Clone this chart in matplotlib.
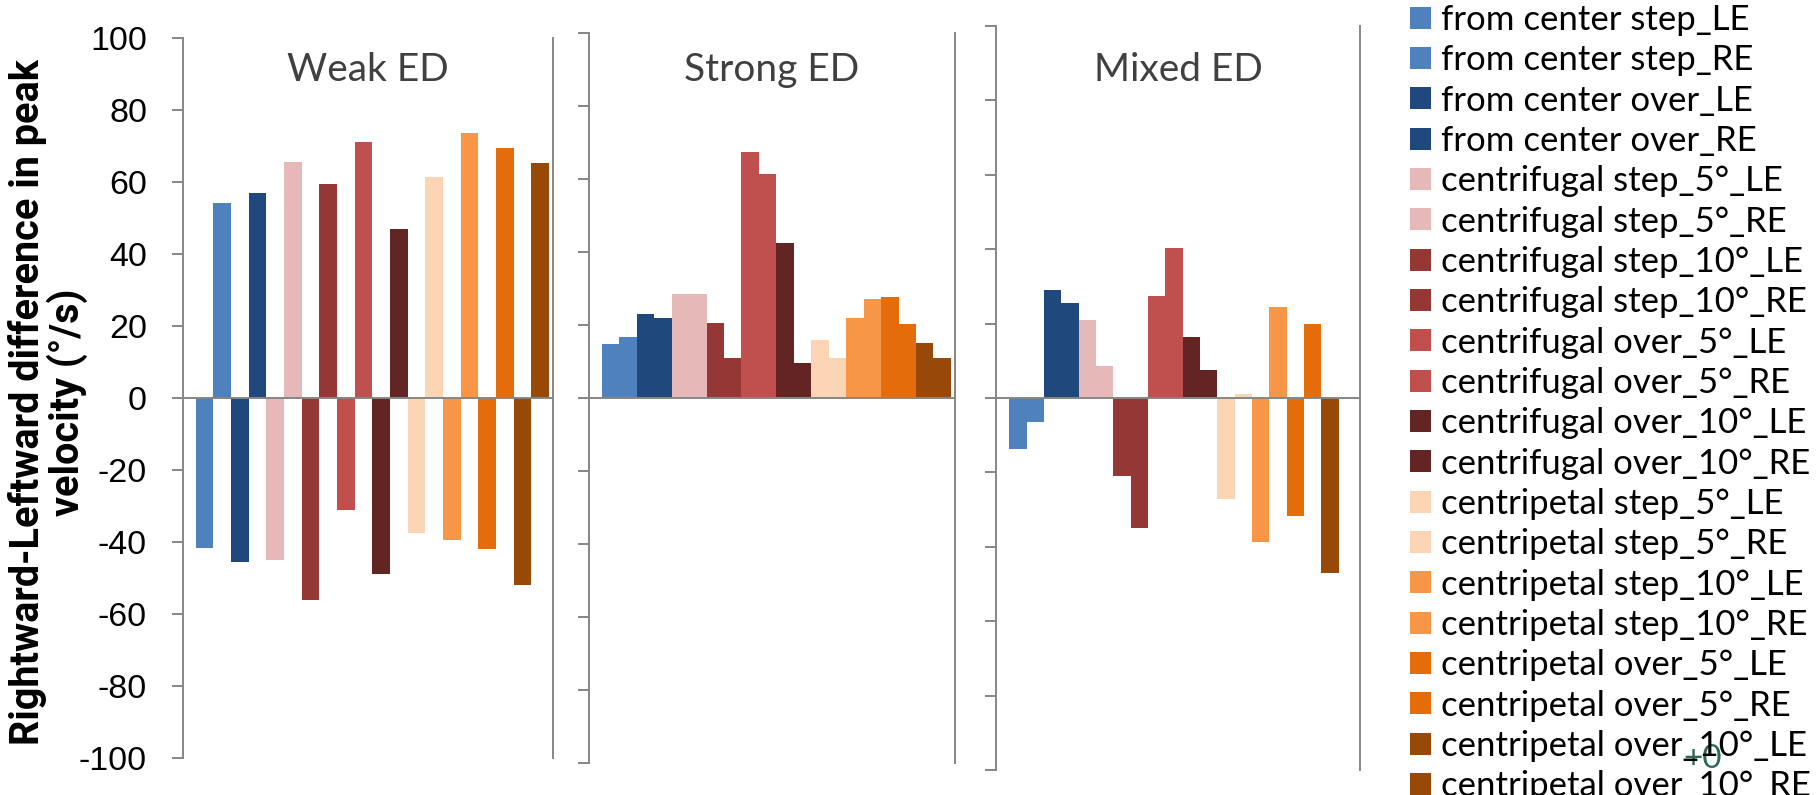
import numpy as np
import matplotlib
matplotlib.use("Agg")
import matplotlib.pyplot as plt

plt.rcParams["axes.unicode_minus"] = False

# series names, one bar each per panel
series = ["from center step_LE", "from center step_RE",
          "from center over_LE", "from center over_RE",
          "centrifugal step_5°_LE", "centrifugal step_5°_RE",
          "centrifugal step_10°_LE", "centrifugal step_10°_RE",
          "centrifugal over_5°_LE", "centrifugal over_5°_RE",
          "centrifugal over_10°_LE", "centrifugal over_10°_RE",
          "centripetal step_5°_LE", "centripetal step_5°_RE",
          "centripetal step_10°_LE", "centripetal step_10°_RE",
          "centripetal over_5°_LE", "centripetal over_5°_RE",
          "centripetal over_10°_LE", "centripetal over_10°_RE"]

panels = ["Weak ED", "Strong ED", "Mixed ED"]

weak = [-41.7, 54.2, -45.6, 57.1, -44.9, 65.7, -56.1, 59.4, -31.2, 71.1,
        -48.9, 47.1, -37.5, 61.4, -39.5, 73.6, -42.0, 69.4, -52.0, 65.3]
strong = [14.9, 16.6, 23.0, 21.9, 28.4, 28.4, 20.5, 10.9, 67.4, 61.4,
          42.6, 9.7, 16.0, 10.9, 21.9, 27.0, 27.6, 20.2, 15.2, 10.9]
mixed = [-13.8, -6.4, 28.9, 25.6, 20.9, 8.7, -20.9, -34.9, 27.3, 40.2,
         16.5, 7.6, -27.1, 1.2, -38.7, 24.5, -31.8, 19.8, -47.0, np.nan]

yticks = list(range(-100, 101, 20))

pair_colors = ["#4F81BD", "#1F497D", "#E6B9B8", "#953735", "#C0504D",
               "#632523", "#FCD5B5", "#F79646", "#E46C0A", "#984807"]
colors = [c for c in pair_colors for _ in range(2)]

grey = "#868686"
W, H = 1818, 795

fig = plt.figure(figsize=(W / 100, H / 100), dpi=100)

# panel boxes in pixels: left, right, top, bottom (Excel panels differ a bit)
boxes = [(182.5, 553.3, 38.3, 757.7),
         (588.7, 955.3, 33.0, 763.0),
         (996.3, 1360.3, 26.0, 770.0)]

axes = []
for k, (vals, name) in enumerate(zip([weak, strong, mixed], panels)):
    l, r, t, b = boxes[k]
    ax = fig.add_axes([l / W, 1 - b / H, (r - l) / W, (b - t) / H])
    x = np.arange(len(vals))
    for i in range(len(vals)):
        ax.bar(x[i], vals[i], width=1.0, color=colors[i], label=series[i],
               linewidth=0)
    ax.set_xlim(-1.25, len(vals) - 0.25)
    ax.set_ylim(-100, 100)
    ax.set_yticks(yticks)
    ax.axhline(0, color=grey, lw=1.4, zorder=3)
    ax.set_xticks([])
    for s in ["top", "bottom"]:
        ax.spines[s].set_visible(False)
    for s in ["left", "right"]:
        ax.spines[s].set_color(grey)
        ax.spines[s].set_linewidth(1.4)
    ax.tick_params(axis="y", direction="out", length=8, width=1.4,
                   color=grey, labelsize=24.5, pad=17.5)
    for lab in ax.get_yticklabels():
        lab.set_family("Liberation Sans")
    if k > 0:
        ax.set_yticklabels([])
    fig.text(((l + r) / 2) / W, 1 - 81 / H, name, ha="center", va="baseline",
             fontsize=28, color="#404040", family="Lato")
    axes.append(ax)

fig.text(48 / W, 0.4937, "Rightward-Leftward difference in peak\nvelocity (°/s)",
         rotation=90, ha="center", va="center", multialignment="center",
         fontsize=28.5, fontweight="bold", family="Roboto", linespacing=1.0)

handles, labels = axes[0].get_legend_handles_labels()
fig.legend(handles, labels, loc="upper left", bbox_to_anchor=(1410 / W, 0.995),
           frameon=False, prop={"family": "Lato", "size": 25},
           handlelength=0.6, handleheight=0.6, handletextpad=0.3,
           labelspacing=0.24, borderpad=0, borderaxespad=0)

fig.text(1683 / W, 1 - 759 / H, "+0", ha="left", va="center",
         fontsize=24, color="#2E6B57", family="Lato")

fig.savefig("out.png", dpi=100)
